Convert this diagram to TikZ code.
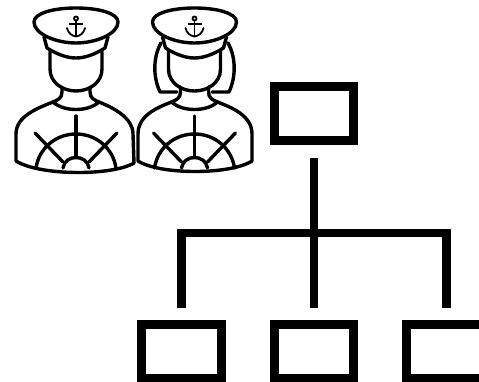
\documentclass[tikz,border=0pt]{standalone}
\tikzset{
  orgbox/.style={draw,line width=8.7pt,minimum width=79.5pt,minimum height=53.5pt,inner sep=0pt,outer sep=0pt},
  orgline/.style={line width=8.7pt},
  sailorline/.style={line width=3.4pt,line cap=round,line join=round},
  pics/sailor/.style={code={
    % cap
    \draw[sailorline,fill=white] (-42,22) .. controls (-42,13) and (-22,8) .. (0,8)
      .. controls (22,8) and (42,13) .. (42,22)
      .. controls (42,34) and (20,43) .. (0,43)
      .. controls (-20,43) and (-42,34) .. (-42,22) -- cycle;
    \draw[sailorline] (-32,37) -- (-29,48) .. controls (-18,55) and (-8,58) .. (0,58)
      .. controls (8,58) and (18,55) .. (29,48) -- (32,37);
    % anchor
    \draw[line width=1.8pt] (0,18.5) circle (2);
    \draw[line width=1.8pt] (0,20.5) -- (0,36) (-7,24) -- (7,24);
    \draw[line width=1.8pt,line cap=round] (-9,28) .. controls (-8,33) and (-4,36) .. (0,36.5)
      .. controls (4,36) and (8,33) .. (9,28);
    % face and collar
    \draw[sailorline] (-26,50) -- (-26,69) .. controls (-26,83) and (-13,91) .. (0,91)
      .. controls (13,91) and (26,83) .. (26,69) -- (26,50);
    \draw[sailorline] (-14,87) -- (-14,92) .. controls (-14,98) and (-18,100) .. (-23,102)
      .. controls (-12,112) and (12,112) .. (23,102)
      .. controls (18,100) and (14,98) .. (14,92) -- (14,87);
    % wheel
    \draw[sailorline] (0,116) -- (0,157);
    \draw[sailorline] (-41,133) -- (-13,162) (41,133) -- (13,162);
    \draw[sailorline] (-40,168) .. controls (-37,148) and (-20,134) .. (0,134)
      .. controls (20,134) and (37,148) .. (40,168);
    \draw[sailorline] (-13,168) .. controls (-12,161) and (-6,157.5) .. (0,157.5)
      .. controls (6,157.5) and (12,161) .. (13,168);
  }}
}
\begin{document}
\begin{tikzpicture}[x=1pt,y=-1pt]
  \clip (0,0) rectangle (479,382);

  % the two sailors
  \pic at (76,0) {sailor};
  \pic at (194.5,0) {sailor};

  % his body
  \draw[sailorline] (53,102) .. controls (38,108) and (16,116) .. (16,134) -- (16,161)
    .. controls (40,176) and (112,176) .. (134,163);
  \draw[sailorline] (99,102) .. controls (114,108) and (133,118) .. (133,134) -- (134,163);

  % her body
  \draw[sailorline] (171.5,102) .. controls (156,108) and (138,116) .. (138,134) -- (138,161)
    .. controls (160,175) and (230,175) .. (252,161);
  \draw[sailorline] (217.5,102) .. controls (233,108) and (252,116) .. (252,134) -- (252,161);

  % her hair
  \draw[sailorline] (161,43) .. controls (154,55) and (152,75) .. (160,92) -- (177,92);
  \draw[sailorline] (228,43) .. controls (235,55) and (237,75) .. (229,92) -- (212,92);

  % the chart
  \node[orgbox] (top) at (314,113.5) {};
  \node[orgbox] (left) at (181.5,351.5) {};
  \node[orgbox] (mid) at (314,351.5) {};
  \node[orgbox] (right) at (446.5,351.5) {};

  \coordinate (stem) at (314,158);
  \coordinate (bus) at (314,233);
  \coordinate (leftdrop) at (181.5,308);
  \coordinate (middrop) at (314,308);
  \coordinate (rightdrop) at (446.5,308);

  \draw[orgline] (stem) -- (bus);
  \draw[orgline] (leftdrop) |- (bus) -| (rightdrop);
  \draw[orgline] (bus) -- (middrop);
\end{tikzpicture}
\end{document}
